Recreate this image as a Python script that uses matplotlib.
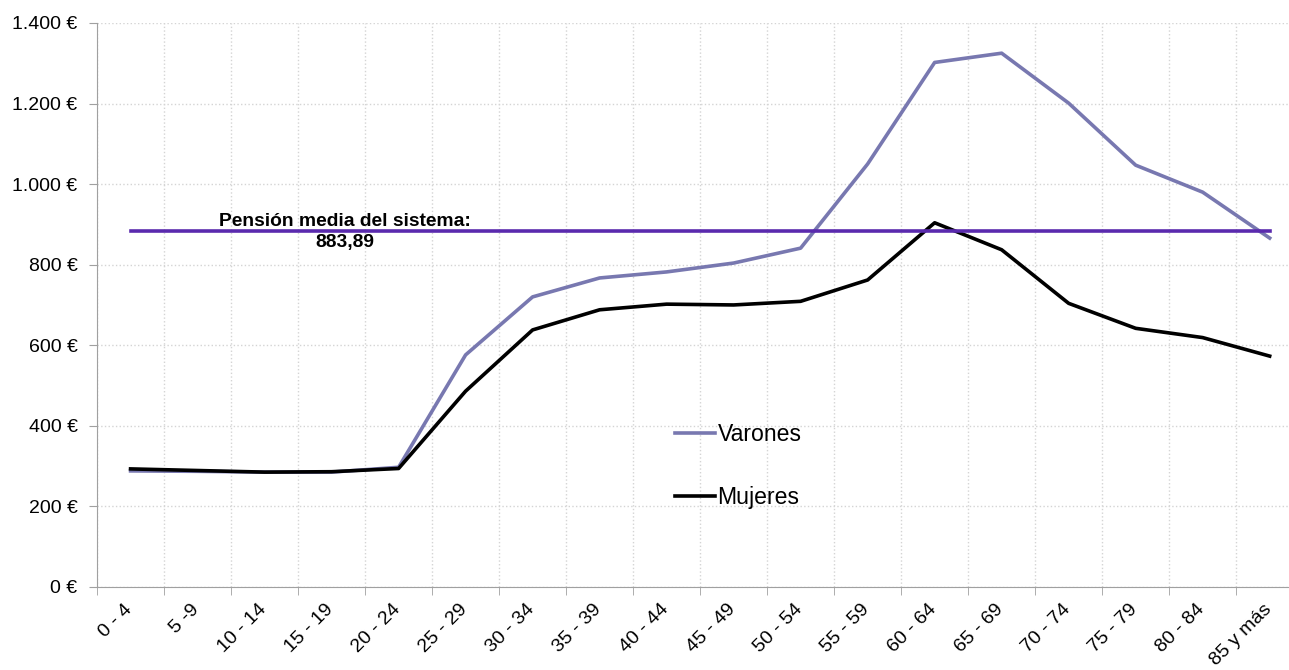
"""Pensión media por grupo de edad: varones vs mujeres, con la media del sistema."""
import numpy as np
import matplotlib.pyplot as plt
import matplotlib.transforms as mtransforms
from matplotlib.ticker import FuncFormatter

plt.rcParams["font.family"] = ["Liberation Sans", "DejaVu Sans"]

# Data
age_groups = ["0 - 4", "5 -9", "10 - 14", "15 - 19", "20 - 24", "25 - 29",
              "30 - 34", "35 - 39", "40 - 44", "45 - 49", "50 - 54", "55 - 59",
              "60 - 64", "65 - 69", "70 - 74", "75 - 79", "80 - 84", "85 y más"]
varones = [288, 287, 285, 285, 297, 576, 720, 767, 782, 804, 841, 1050,
           1302, 1325, 1201, 1047, 980, 866]
mujeres = [293, 289, 285, 286, 294, 486, 638, 688, 702, 700, 709, 762,
           904, 837, 704, 642, 619, 573]
pension_media = 883.89


def euro(v, _pos):
    return f"{int(v):,} €".replace(",", ".")


def main() -> None:
    fig = plt.figure(figsize=(12.89, 6.70), dpi=100)
    ax = fig.add_axes([0.0753, 0.124, 0.9357, 0.8417])

    xs = np.arange(len(age_groups))
    ax.plot(xs, varones, color="#7878B0", lw=2.6, label="Varones", zorder=3)
    ax.plot(xs, mujeres, color="black", lw=2.6, label="Mujeres", zorder=3)
    ax.plot([xs[0], xs[-1]], [pension_media, pension_media],
            color="#5A2AAE", lw=2.6, zorder=4)

    ax.text(3.2, pension_media - 3, "Pensión media del sistema:\n883,89",
            ha="center", va="center", fontsize=13.9, fontweight="bold",
            linespacing=1.25, zorder=5)

    ax.set_xlim(-0.5, len(age_groups) - 0.5)
    ax.set_ylim(0, 1400)
    ax.set_yticks(np.arange(0, 1401, 200))
    ax.yaxis.set_major_formatter(FuncFormatter(euro))

    ax.set_xticks(xs)
    ax.set_xticklabels(age_groups, rotation=45, ha="right", va="top")
    ax.set_xticks(np.arange(-0.5, len(age_groups) - 0.5, 1.0), minor=True)
    ax.tick_params(axis="x", which="major", length=0, pad=10, labelsize=14)
    ax.tick_params(axis="x", which="minor", length=6, color="#A0A0A0")
    ax.tick_params(axis="y", length=6, color="#A0A0A0", labelsize=14, pad=8)
    # nudge rotated labels a little to the right, like the original
    shift = mtransforms.ScaledTranslation(5 / 100, 0, fig.dpi_scale_trans)
    for lab in ax.get_xticklabels():
        lab.set_transform(lab.get_transform() + shift)

    ax.grid(True, axis="y", which="major", color="#D4D4D4", ls=":", lw=1)
    ax.grid(True, axis="x", which="minor", color="#D4D4D4", ls=":", lw=1)
    ax.set_axisbelow(True)

    for side in ("top", "right"):
        ax.spines[side].set_visible(False)
    for side in ("left", "bottom"):
        ax.spines[side].set_color("#A0A0A0")

    ax.legend(frameon=False, fontsize=16.6, loc="upper left",
              bbox_to_anchor=(0.479, 0.29), handlelength=1.75,
              handletextpad=0.1, labelspacing=1.72, borderaxespad=0,
              borderpad=0)

    fig.savefig("out.png", dpi=100)


if __name__ == "__main__":
    main()
